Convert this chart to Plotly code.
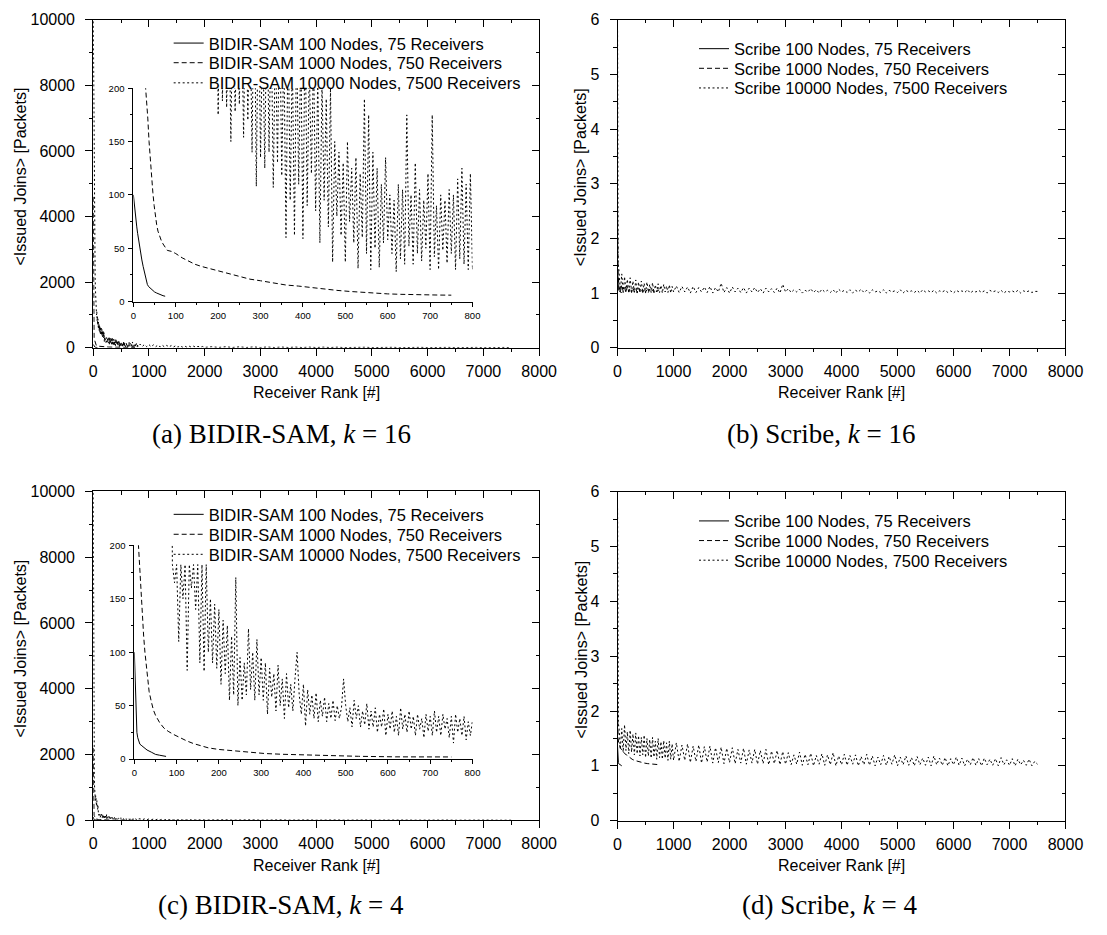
import plotly.graph_objects as go

# ======================= DATA =======================
# ---- (a) BIDIR-SAM, k = 16 ----
a_n100_rank = [0, 2, 5, 8, 10, 13, 15, 18, 20, 23, 25, 28, 30, 33, 36, 40, 45, 50, 55, 60, 65, 70, 75]
a_n100_val = [100, 91, 80, 70, 64, 55, 50, 43, 39, 33, 29, 24, 19, 16, 14, 12.5, 10.5, 9, 8, 7, 6, 5.5, 5]

a_n1000_rank = [1, 2, 3, 5, 7, 10, 13, 16, 20, 24, 28, 31, 34, 37, 40, 43, 46, 49, 52, 55, 58, 62, 66, 70, 75,
                80, 90, 100, 115, 130, 145, 160, 180, 200, 225, 250, 275, 300, 330, 360, 390, 420, 450, 480,
                510, 540, 570, 600, 630, 660, 690, 720, 750]
a_n1000_val = [4600, 2600, 1700, 1000, 720, 500, 390, 320, 260, 225, 205, 190, 172, 150, 132, 116, 102, 90, 78,
               72, 66, 61, 57, 54, 51, 48, 47, 45, 41, 38, 35, 33, 31, 29, 26, 23.5, 21, 19.5, 17.5, 15.5, 14.5,
               13, 11.5, 10.5, 9.5, 8.5, 7.8, 7.2, 6.8, 6.4, 6.2, 6.1, 6]

a_n10000_head_rank = [0, 2, 4, 6, 8, 10, 13, 16, 20, 25, 30, 35, 40, 45, 50, 55, 60, 65, 70, 75, 80, 85, 90, 95,
                      100, 105, 110, 115, 120, 125, 130, 135, 140, 145, 150, 155, 160, 165, 170, 175, 180, 185,
                      190, 195]
a_n10000_head_val = [10500, 9800, 9000, 8200, 7400, 6600, 5700, 4900, 4000, 3200, 2600, 2150, 1800, 1500, 1300,
                     1150, 1000, 1100, 820, 950, 700, 880, 620, 780, 560, 720, 500, 680, 470, 640, 430, 600, 400,
                     590, 380, 560, 360, 520, 330, 500, 310, 480, 300, 460]
# ranks 200 .. 800, every 5
a_n10000_inset_val = [175, 330, 188, 300, 182, 290, 150, 310, 178, 270, 185, 285, 154, 300, 170, 280, 140, 320,
                      108, 290, 135, 260, 125, 300, 140, 270, 107, 250, 130, 280, 118, 240, 60, 260, 95, 230, 62,
                      250, 110, 240, 59, 260, 90, 220, 120, 230, 85, 210, 55, 205, 95, 190, 70, 200, 37, 150, 80,
                      140, 62, 130, 37, 150, 75, 125, 55, 135, 31, 120, 60, 190, 45, 175, 30, 140, 50, 125, 32,
                      110, 55, 135, 58, 100, 45, 95, 28, 110, 40, 105, 35, 175, 52, 100, 35, 130, 45, 105, 38, 95,
                      50, 120, 30, 175, 42, 90, 30, 100, 48, 95, 36, 105, 45, 100, 30, 115, 40, 125, 35, 110, 30,
                      120, 30]
# ranks 840 .. , every 40
a_n10000_mid_val = [110, 35, 100, 30, 95, 28, 88, 26, 82, 24, 76, 22, 70, 20, 66, 19, 62, 18, 58, 17, 54, 16, 50,
                    15, 46, 14, 42, 13, 38, 11]
# ranks 2125 .. 7500, every 125
a_n10000_tail_val = [30, 9, 28, 8, 26, 7, 24, 7, 22, 6, 20, 6, 19, 5, 18, 5, 17, 5, 16, 4, 15, 4, 14, 4, 13, 3, 12,
                     3, 12, 3, 11, 3, 10, 3, 10, 2, 9, 2, 9, 2, 8, 2, 8, 2]

# ---- (b) Scribe, k = 16 ----
b_n100_rank = [0, 3, 6, 10, 15, 20, 30, 40, 50, 60, 75]
b_n100_val = [1.45, 1.25, 1.15, 1.1, 1.07, 1.05, 1.03, 1.02, 1.02, 1.01, 1.01]

b_n1000_head_rank = [0, 3, 6, 10]
b_n1000_head_val = [2.6, 1.8, 1.5, 1.35]
# ranks 25 .. 750, every 25
b_n1000_seg_val = [1.12, 1.02, 1.15, 1.03, 1.1, 1.01, 1.12, 1.02, 1.09, 1.01, 1.1, 1.02, 1.08, 1.01, 1.09, 1.02,
                   1.07, 1.01, 1.08, 1.02, 1.06, 1.01, 1.07, 1.02, 1.06, 1.01, 1.05, 1.02, 1.06, 1.02]

b_n10000_head_rank = [0, 2, 5, 10, 18]
b_n10000_head_val = [5.8, 3.5, 2.2, 1.6, 1.45]
# ranks 25 .. 1000, every 25
b_n10000_seg1_val = [1.42, 1.02, 1.35, 1.01, 1.30, 1.03, 1.25, 1.00, 1.28, 1.02, 1.22, 1.01, 1.24, 1.00, 1.20,
                     1.02, 1.22, 1.01, 1.18, 1.00, 1.20, 1.02, 1.16, 1.01, 1.19, 1.00, 1.15, 1.02, 1.17, 1.01,
                     1.14, 1.00, 1.16, 1.02, 1.13, 1.01, 1.15, 1.00, 1.12, 1.02]
# ranks 1050 .. 3000, every 50
b_n10000_seg2_val = [1.13, 1.01, 1.12, 1.02, 1.11, 1.00, 1.12, 1.01, 1.10, 1.02, 1.11, 1.01, 1.12, 1.00, 1.10,
                     1.02, 1.18, 1.01, 1.10, 1.00, 1.11, 1.02, 1.09, 1.01, 1.10, 1.00, 1.09, 1.02, 1.10, 1.01,
                     1.08, 1.00, 1.09, 1.02, 1.08, 1.01, 1.09, 1.00, 1.16, 1.02]
# ranks 3050 .. 7500, every 50
b_n10000_seg3_val = [1.08, 1.01, 1.06, 1.02, 1.07, 1.00, 1.05, 1.02, 1.08, 1.01,
                     1.06, 1.00, 1.07, 1.02, 1.05, 1.01, 1.06, 1.00, 1.07, 1.02,
                     1.05, 1.01, 1.06, 1.00, 1.05, 1.02, 1.07, 1.01, 1.05, 1.00,
                     1.06, 1.02, 1.04, 1.01, 1.06, 1.00, 1.05, 1.02, 1.04, 1.01,
                     1.06, 1.00, 1.05, 1.02, 1.04, 1.01, 1.05, 1.00, 1.06, 1.02,
                     1.04, 1.01, 1.05, 1.00, 1.04, 1.02, 1.05, 1.01, 1.04, 1.00,
                     1.05, 1.02, 1.04, 1.01, 1.06, 1.00, 1.04, 1.02, 1.05, 1.01,
                     1.04, 1.00, 1.05, 1.02, 1.04, 1.01, 1.05, 1.00, 1.04, 1.02,
                     1.04, 1.01, 1.05, 1.00, 1.04, 1.02, 1.04, 1.01, 1.03, 1.03]

# ---- (c) BIDIR-SAM, k = 4 ----
c_n100_rank = [0, 1, 2, 3, 4, 5, 6, 8, 10, 13, 16, 20, 25, 30, 40, 50, 60, 75]
c_n100_val = [100, 85, 68, 52, 40, 31, 25, 20, 17, 14, 13, 11.5, 10, 8.5, 6.5, 4.4, 3.6, 2.5]

c_n1000_rank = [0, 1, 2, 3, 5, 7, 9, 11, 13, 15, 17, 19, 22, 25, 28, 31, 35, 40, 45, 50, 55, 60, 70, 80, 93, 110,
                124, 140, 155, 175, 200, 232, 270, 309, 350, 400, 464, 530, 618, 700, 750]
c_n1000_val = [2200, 1400, 1000, 750, 480, 320, 205, 190, 172, 158, 145, 133, 115, 100, 88, 75, 63, 54, 46, 41,
               37, 34, 29, 26, 23, 19.5, 17, 14.5, 12.5, 10.5, 9, 7.7, 6.3, 5.2, 4.5, 3.8, 3.1, 2.6, 2.1, 2, 2]

c_n10000_head_rank = [0, 2, 4, 6, 8, 10, 13, 16, 20, 25, 30, 35, 40, 45, 50, 55, 60, 65, 70, 75, 80, 85]
c_n10000_head_val = [10500, 8000, 6000, 4500, 3500, 2800, 2200, 1700, 1300, 1000, 800, 900, 600, 750, 520, 680,
                     430, 600, 380, 520, 330, 450]
# ranks 90 .. 800, every 5
c_n10000_inset_val = [182, 165, 182, 110, 182, 150, 182, 83, 182, 160, 182, 140, 182, 90, 182, 82, 182, 100, 150,
                      90, 145, 85, 140, 70, 130, 80, 125, 55, 115, 60, 170, 50, 95, 55, 90, 60, 122, 65, 100, 55,
                      112, 60, 95, 55, 90, 42, 85, 58, 80, 45, 88, 50, 75, 38, 80, 48, 70, 45, 75, 100, 60, 42,
                      70, 31, 65, 42, 60, 38, 62, 35, 55, 40, 58, 35, 52, 38, 55, 36, 50, 38, 48, 75, 50, 35, 48,
                      30, 55, 38, 50, 30, 45, 32, 52, 28, 45, 30, 48, 25, 42, 30, 47, 22, 42, 28, 45, 25, 40, 22,
                      48, 28, 42, 25, 45, 28, 40, 22, 42, 28, 38, 20, 42, 26, 40, 22, 45, 25, 40, 22, 42, 28, 38,
                      20, 40, 15, 42, 25, 38, 22, 40, 18, 35, 22, 36]
c_n10000_mid_val = [45, 15, 42, 14, 40, 13, 38, 12, 36, 11, 34, 10, 32, 10, 30, 9, 28, 9, 26, 8, 25, 8, 24, 7, 22,
                    7, 20, 6, 19, 6]
c_n10000_tail_val = [14, 4, 13, 4, 12, 3, 12, 3, 11, 3, 10, 3, 10, 3, 9, 2, 9, 2, 8, 2, 8, 2, 7, 2, 7, 2, 7, 2, 6, 2,
                     6, 2, 6, 2, 5, 1, 5, 1, 5, 1, 5, 1, 4, 1]

# ---- (d) Scribe, k = 4 ----
d_n100_rank = [0, 2, 4, 6, 8, 10, 15, 20, 30, 40, 50, 60, 75]
d_n100_val = [1.35, 1.25, 1.18, 1.13, 1.1, 1.08, 1.06, 1.04, 1.03, 1.02, 1.01, 1.01, 1.0]

d_n1000_rank = [0, 2, 5, 10, 20, 30, 45, 61, 80, 100, 130, 160, 183, 220, 260, 300, 366, 420, 480, 540, 610, 680, 750]
d_n1000_val = [2.1, 1.8, 1.6, 1.5, 1.42, 1.37, 1.34, 1.31, 1.28, 1.25, 1.22, 1.2, 1.18, 1.15, 1.12, 1.1, 1.08,
               1.06, 1.05, 1.04, 1.03, 1.02, 1.02]

d_n10000_head_rank = [0, 2, 5, 10, 15]
d_n10000_head_val = [5.7, 3.5, 2.3, 1.9, 1.75]
d_n10000_seg1_val = [1.72, 1.30, 1.68, 1.25, 1.75, 1.28, 1.62, 1.22, 1.65, 1.25, 1.58, 1.20, 1.60, 1.22, 1.55,
                     1.18, 1.52, 1.20, 1.56, 1.15, 1.50, 1.18, 1.48, 1.14, 1.52, 1.16, 1.45, 1.12, 1.50, 1.15,
                     1.44, 1.12, 1.46, 1.14, 1.42, 1.10, 1.45, 1.12, 1.40, 1.10]
d_n10000_seg2_val = [1.42, 1.08, 1.38, 1.10, 1.40, 1.06, 1.36, 1.08, 1.38, 1.05, 1.35, 1.07, 1.36, 1.05, 1.33,
                     1.06, 1.34, 1.04, 1.32, 1.06, 1.33, 1.04, 1.30, 1.05, 1.32, 1.03, 1.29, 1.05, 1.30, 1.03,
                     1.28, 1.04, 1.30, 1.02, 1.27, 1.04, 1.28, 1.02, 1.26, 1.03]
d_n10000_seg3_val = [1.24, 1.02, 1.20, 1.03, 1.25, 1.01, 1.21, 1.02, 1.23, 1.00,
                     1.19, 1.03, 1.22, 1.01, 1.20, 1.02, 1.24, 1.00, 1.18, 1.02,
                     1.21, 1.01, 1.19, 1.03, 1.20, 1.00, 1.17, 1.02, 1.21, 1.01,
                     1.18, 1.00, 1.16, 1.02, 1.19, 1.01, 1.17, 1.03, 1.20, 1.00,
                     1.16, 1.02, 1.18, 1.01, 1.15, 1.00, 1.17, 1.02, 1.14, 1.01,
                     1.16, 1.00, 1.18, 1.02, 1.14, 1.01, 1.15, 1.00, 1.13, 1.02,
                     1.16, 1.01, 1.14, 1.00, 1.12, 1.02, 1.15, 1.01, 1.13, 1.00,
                     1.14, 1.02, 1.12, 1.01, 1.13, 1.00, 1.15, 1.02, 1.11, 1.01,
                     1.13, 1.00, 1.12, 1.02, 1.10, 1.01, 1.12, 1.00, 1.08, 1.03]

# labels
captions = ["(a) BIDIR-SAM, <i>k</i> = 16", "(b) Scribe, <i>k</i> = 16",
            "(c) BIDIR-SAM, <i>k</i> = 4", "(d) Scribe, <i>k</i> = 4"]
series_suffix = ["100 Nodes, 75 Receivers", "1000 Nodes, 750 Receivers", "10000 Nodes, 7500 Receivers"]
x_title = "Receiver Rank [#]"
y_title = "&lt;Issued Joins&gt; [Packets]"


def seq(start, step, vals):
    return [start + i * step for i in range(len(vals))]


a_n10000_rank = (a_n10000_head_rank + seq(200, 5, a_n10000_inset_val) + seq(840, 40, a_n10000_mid_val)
                 + seq(2125, 125, a_n10000_tail_val))
a_n10000_val = a_n10000_head_val + a_n10000_inset_val + a_n10000_mid_val + a_n10000_tail_val
b_n1000_rank = b_n1000_head_rank + seq(25, 25, b_n1000_seg_val)
b_n1000_val = b_n1000_head_val + b_n1000_seg_val
b_n10000_rank = (b_n10000_head_rank + seq(25, 25, b_n10000_seg1_val) + seq(1050, 50, b_n10000_seg2_val)
                 + seq(3050, 50, b_n10000_seg3_val))
b_n10000_val = b_n10000_head_val + b_n10000_seg1_val + b_n10000_seg2_val + b_n10000_seg3_val
c_n10000_rank = (c_n10000_head_rank + seq(90, 5, c_n10000_inset_val) + seq(840, 40, c_n10000_mid_val)
                 + seq(2125, 125, c_n10000_tail_val))
c_n10000_val = c_n10000_head_val + c_n10000_inset_val + c_n10000_mid_val + c_n10000_tail_val
d_n10000_rank = (d_n10000_head_rank + seq(25, 25, d_n10000_seg1_val) + seq(1050, 50, d_n10000_seg2_val)
                 + seq(3050, 50, d_n10000_seg3_val))
d_n10000_val = d_n10000_head_val + d_n10000_seg1_val + d_n10000_seg2_val + d_n10000_seg3_val

# ======================= LAYOUT =======================
W, H = 1107, 935
SANS = "Liberation Sans, Arial, Helvetica, sans-serif"
SERIF = "Liberation Serif, Times New Roman, serif"


def fx(p):
    return p / W


def fy(p):
    return 1 - p / H


STYLE = {
    "solid": dict(color="black", width=1),
    "dash": dict(color="black", width=1, dash="5px,3px"),
    "dot": dict(color="black", width=1, dash="2px,2.5px"),
}

panels = [
    dict(frame=(91, 546, 12, 346), ax=("x", "y", "x2", "y2"), yr=(0, 10000, 2000), ytx=17,
         inset=((132, 478, 81.7, 299), ("x3", "y3")), legx=168, rows=(36, 56, 76.5), prefix="BIDIR-SAM",
         series=[(a_n100_rank, a_n100_val), (a_n1000_rank, a_n1000_val), (a_n10000_rank, a_n10000_val)]),
    dict(frame=(626, 1083, 12, 346), ax=("x4", "y4", "x5", "y5"), yr=(0, 6, 1), ytx=589,
         inset=None, legx=704, rows=(41.7, 61.7, 81.7), prefix="Scribe",
         series=[(b_n100_rank, b_n100_val), (b_n1000_rank, b_n1000_val), (b_n10000_rank, b_n10000_val)]),
    dict(frame=(91, 546, 492.3, 827.3), ax=("x6", "y6", "x7", "y7"), yr=(0, 10000, 2000), ytx=17,
         inset=((133, 478, 547.3, 765), ("x8", "y8")), legx=168, rows=(516, 536.3, 556.7), prefix="BIDIR-SAM",
         series=[(c_n100_rank, c_n100_val), (c_n1000_rank, c_n1000_val), (c_n10000_rank, c_n10000_val)]),
    dict(frame=(626, 1083, 492.7, 827.7), ax=("x9", "y9", "x10", "y10"), yr=(0, 6, 1), ytx=589,
         inset=None, legx=704, rows=(522.7, 542.7, 562.7), prefix="Scribe",
         series=[(d_n100_rank, d_n100_val), (d_n1000_rank, d_n1000_val), (d_n10000_rank, d_n10000_val)]),
]


def lk(a):
    return a[0] + "axis" + a[1:]


def base_axis(**kw):
    d = dict(showgrid=False, zeroline=False, showline=True, linecolor="black", linewidth=1,
             tickcolor="black", tickwidth=1, ticks="outside", ticklen=7, tickmode="linear", tickformat="d",
             tickfont=dict(family=SANS, size=16, color="black"), fixedrange=True)
    d.update(kw)
    return d


def minor(dt, ln, side):
    return dict(dtick=dt, ticklen=ln, ticks=side, tickcolor="black", tickwidth=1)


fig = go.Figure()
layout = {}
annotations = []
styles = ["solid", "dash", "dot"]
leg_count = 0

for p in panels:
    x0, x1, y0, y1 = p["frame"]
    xa, ya, xt, yr_ = p["ax"]
    ymin, ymax, ydt = p["yr"]
    layout[lk(xa)] = base_axis(domain=[fx(x0), fx(x1)], anchor=ya, range=[0, 8000], tick0=0, dtick=1000,
                               minor=minor(500, 3.5, "outside"), ticklabelstandoff=2)
    layout[lk(ya)] = base_axis(domain=[fy(y1), fy(y0)], anchor=xa, range=[ymin, ymax], tick0=0, dtick=ydt,
                               minor=minor(ydt / 2, 3.5, "outside"), ticklabelstandoff=7)
    layout[lk(xt)] = base_axis(overlaying=xa, anchor=ya, side="top", range=[0, 8000], tick0=0, dtick=1000,
                               ticks="inside", showticklabels=False, minor=minor(500, 3.5, "inside"))
    layout[lk(yr_)] = base_axis(overlaying=ya, anchor=xa, side="right", range=[ymin, ymax], tick0=0, dtick=ydt,
                                ticks="inside", showticklabels=False, minor=minor(ydt / 2, 3.5, "inside"))
    fig.add_trace(go.Scatter(x=[None], y=[None], xaxis=xt, yaxis=ya, showlegend=False, hoverinfo="skip"))
    fig.add_trace(go.Scatter(x=[None], y=[None], xaxis=xa, yaxis=yr_, showlegend=False, hoverinfo="skip"))

    for (rk, vl), st, suf, row in zip(p["series"], styles, series_suffix, p["rows"]):
        leg_count += 1
        lname = "legend" if leg_count == 1 else f"legend{leg_count}"
        fig.add_trace(go.Scatter(x=rk, y=vl, mode="lines", line=STYLE[st], xaxis=xa, yaxis=ya,
                                 name=f"{p['prefix']} {suf}", legend=lname, hoverinfo="skip"))
        layout[lname] = dict(x=fx(p["legx"]), y=fy(row), xanchor="left", yanchor="middle",
                             bgcolor="rgba(0,0,0,0)", borderwidth=0,
                             font=dict(family=SANS, size=16.5, color="black"), itemwidth=30)
    if p["inset"] is not None:
        (ix0, ix1, iy0, iy1), (ixa, iya) = p["inset"]
        layout[lk(ixa)] = base_axis(domain=[fx(ix0), fx(ix1)], anchor=iya, range=[0, 800], tick0=0, dtick=100,
                                    ticklen=4, minor=minor(50, 2, "outside"), ticklabelstandoff=1,
                                    tickfont=dict(family=SANS, size=9.5, color="black"))
        layout[lk(iya)] = base_axis(domain=[fy(iy1), fy(iy0)], anchor=ixa, range=[0, 200], tick0=0, dtick=50,
                                    ticklen=4, minor=minor(25, 2, "outside"), ticklabelstandoff=2,
                                    tickfont=dict(family=SANS, size=9.5, color="black"))
        for (rk, vl), st in zip(p["series"], styles):
            fig.add_trace(go.Scatter(x=rk, y=vl, mode="lines", line=STYLE[st], xaxis=ixa, yaxis=iya,
                                     showlegend=False, hoverinfo="skip"))

    annotations.append(dict(x=fx((x0 + x1) / 2), y=fy(y1 + 46), xref="paper", yref="paper",
                            text=x_title, showarrow=False, xanchor="center", yanchor="middle",
                            font=dict(family=SANS, size=16, color="black")))
    annotations.append(dict(x=fx(p["ytx"]), y=fy((y0 + y1) / 2 - 7), xref="paper", yref="paper",
                            text=y_title, textangle=-90, showarrow=False,
                            xanchor="center", yanchor="middle", font=dict(family=SANS, size=16, color="black")))

cap_pos = [(283, 434), (834, 434), (283, 914), (842, 914)]
for txt, (cx, cy) in zip(captions, cap_pos):
    annotations.append(dict(x=fx(cx), y=fy(cy), xref="paper", yref="paper", text=txt, showarrow=False,
                            xanchor="center", yanchor="middle", font=dict(family=SERIF, size=27, color="black")))

fig.update_layout(**layout)
fig.update_layout(width=W, height=H, autosize=False, margin=dict(l=0, r=0, t=0, b=0),
                  paper_bgcolor="white", plot_bgcolor="white", showlegend=True,
                  annotations=annotations)

fig.write_html("out.html")
